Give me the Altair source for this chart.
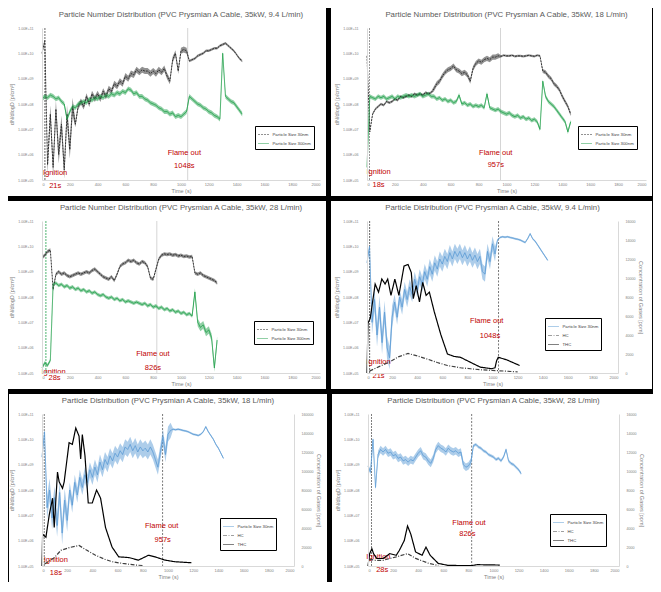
import altair as alt
import pandas as pd

STEP = 20  # seconds between readings of the particle series
X_TICKS = [0, 200, 400, 600, 800, 1000, 1200, 1400, 1600, 1800, 2000]
Y_TICKS = [1e5, 1e6, 1e7, 1e8, 1e9, 1e10, 1e11]

TITLES = [
    "Particle Number Distribution (PVC Prysmian A Cable, 35kW, 9.4 L/min)",
    "Particle Number Distribution (PVC Prysmian A Cable, 35kW, 18 L/min)",
    "Particle Number Distribution (PVC Prysmian A Cable, 35kW, 28 L/min)",
    "Particle Distribution (PVC Prysmian A Cable, 35kW, 9.4 L/min)",
    "Particle Distribution (PVC Prysmian A Cable, 35kW, 18 L/min)",
    "Particle Distribution (PVC Prysmian A Cable, 35kW, 28 L/min)",
]
IGNITION = [21, 18, 28, 21, 18, 28]
FLAME_OUT = [1048, 957, 826, 1048, 957, 826]
IGN_LABEL = ["21s", "18s", "28s", "21s", "18s", "28s"]
FO_LABEL = ["1048s", "957s", "826s", "1048s", "957s", "826s"]
# annotation positions (time s, log10 value)
IGN_T = [95, 83, 83, 92, 110, 83]
IGN_V = [5.29, 5.32, 5.05, 5.45, 5.24, 5.34]
IGNS_T = [95, 83, 90, 92, 110, 113]
IGNS_V = [4.76, 4.8, 4.8, 4.87, 4.73, 4.85]
FO_T = [1024, 923, 798, 954, 950, 805]
FO_V = [6.05, 6.07, 5.75, 7.06, 6.57, 6.71]
FOS_T = [1024, 923, 798, 980, 958, 792]
FOS_V = [5.55, 5.58, 5.2, 6.46, 6.04, 6.26]
LEG_X = [213, 211, 212, 178, 178, 182]
LEG_Y = [98, 98, 100, 97, 104, 100]
GAS_MAX = [16000, 160000, 16000]
GAS_TICKS = [
    [0, 2000, 4000, 6000, 8000, 10000, 12000, 14000, 16000],
    [0, 20000, 40000, 60000, 80000, 100000, 120000, 140000, 160000],
    [0, 2000, 4000, 6000, 8000, 10000, 12000, 14000, 16000],
]

# log10(dN/dlogD) readings, every 20 s from t = 0
P1_30NM = [10.0, 10.5, 5.6, 7.6, 5.5, 7.8, 6.0, 7.2, 5.4, 7.6, 6.2, 7.9, 7.2, 7.9, 8.1, 7.9, 8.3, 8.0, 8.4, 8.2,
           8.4, 8.2, 8.5, 8.3, 8.6, 8.5, 8.8, 8.7, 8.9, 8.8, 9.1, 9.0, 9.2, 9.15, 9.35, 9.25, 9.35, 9.3, 9.3, 9.2,
           9.3, 9.2, 9.35, 9.25, 9.4, 9.1, 8.9, 9.75, 10.0, 9.3, 10.1, 10.15, 10.1, 9.7, 9.75, 9.8, 9.9, 9.95, 10.0,
           10.1, 10.1, 10.15, 10.2, 10.2, 10.3, 10.35, 10.4, 10.3, 10.2, 10.1, 9.95, 9.8, 9.7]
P1_300NM = [8.2, 8.3, 8.25, 8.35, 8.3, 8.2, 8.25, 8.1, 8.0, 7.4, 7.7, 7.9, 7.85, 8.0, 8.05, 8.1, 8.05, 8.2, 8.15,
            8.25, 8.2, 8.3, 8.25, 8.35, 8.3, 8.4, 8.35, 8.45, 8.4, 8.5, 8.45, 8.6, 8.55, 8.4, 8.45, 8.3, 8.3, 8.2,
            8.15, 8.05, 8.0, 7.95, 7.85, 7.8, 7.7, 7.7, 7.6, 7.65, 7.5, 7.55, 7.5, 7.6, 7.7, 8.3, 8.2, 8.1, 8.0,
            7.95, 7.85, 7.8, 7.7, 7.65, 7.55, 7.5, 7.4, 10.0, 8.3, 8.2, 8.1, 8.05, 7.9, 7.75, 7.6]
P2_30NM = [9.9, 6.9, 7.6, 7.8, 7.9, 8.0, 7.95, 8.1, 8.05, 8.1, 8.2, 8.15, 8.3, 8.25, 8.3, 8.35, 8.3, 8.4, 8.35,
           8.4, 8.35, 8.45, 8.4, 8.45, 8.6, 8.8, 8.9, 9.1, 9.25, 9.35, 9.4, 9.5, 9.35, 9.3, 9.2, 9.25, 9.15, 8.9,
           9.4, 9.6, 9.7, 9.65, 9.75, 9.8, 9.75, 9.85, 9.85, 9.9, 9.88, 9.92, 9.9, 9.9, 9.92, 9.88, 9.9, 9.9, 9.88,
           9.9, 9.92, 9.9, 9.88, 9.92, 9.9, 9.3, 9.25, 9.1, 9.0, 8.8, 8.7, 8.55, 8.3, 8.1, 7.9, 7.6]
P2_300NM = [5.5, 8.3, 8.25, 8.2, 8.3, 8.25, 8.3, 8.2, 8.25, 8.3, 8.2, 8.3, 8.25, 8.3, 8.35, 8.3, 8.35, 8.3, 8.35,
            8.4, 8.3, 8.35, 8.4, 8.3, 8.3, 8.2, 8.25, 8.15, 8.2, 8.1, 8.15, 8.05, 8.1, 8.35, 8.0, 8.05, 7.95, 8.0,
            7.9, 7.95, 7.9, 7.95, 7.85, 8.4, 7.85, 7.8, 7.75, 7.8, 7.7, 7.65, 7.6, 7.65, 7.55, 7.5, 7.55, 7.45,
            7.5, 7.4, 7.45, 7.35, 7.4, 7.3, 7.0, 8.9, 8.3, 8.1, 8.0, 7.9, 7.75, 7.6, 7.45, 7.3, 6.9, 7.3]
P3_30NM = [9.55, 9.65, 9.8, 9.85, 8.3, 8.9, 9.0, 8.9, 8.95, 8.85, 8.8, 8.85, 8.9, 8.95, 8.9, 8.95, 9.0, 8.95, 9.05,
           9.1, 9.0, 8.9, 8.8, 8.75, 8.7, 8.8, 8.65, 8.9, 9.2, 9.3, 9.35, 9.45, 9.4, 9.45, 9.35, 9.3, 9.4, 9.35,
           9.2, 8.75, 8.7, 9.1, 9.5, 9.65, 9.7, 9.68, 9.7, 9.65, 9.68, 9.62, 9.65, 9.6, 9.62, 9.58, 9.6, 8.95, 8.9,
           8.95, 8.85, 8.8, 8.75, 8.7, 8.65, 8.55]
P3_300NM = [5.2, 5.4, 5.3, 5.5, 8.5, 8.55, 8.45, 8.5, 8.4, 8.45, 8.35, 8.4, 8.3, 8.35, 8.25, 8.3, 8.2, 8.25, 8.15,
            8.2, 8.1, 8.05, 8.1, 8.0, 7.95, 8.0, 7.9, 7.95, 7.85, 7.9, 7.8, 7.85, 7.8, 7.75, 7.8, 7.75, 7.7, 7.75,
            7.65, 7.7, 7.6, 7.65, 7.55, 7.6, 7.5, 7.55, 7.45, 7.5, 7.4, 7.45, 7.35, 7.4, 7.3, 7.35, 7.25, 8.2, 7.0,
            6.8, 6.9, 6.6, 6.7, 6.4, 5.2, 6.3]
P4_30NM = [9.35, 10.0, 7.0, 7.9, 6.5, 7.6, 6.2, 7.4, 6.0, 5.6, 7.2, 7.8, 7.2, 8.0, 7.6, 8.3, 7.9, 8.4, 8.1, 8.7,
           8.3, 8.8, 8.5, 9.0, 8.7, 9.2, 8.9, 9.35, 9.1, 9.5, 9.3, 9.6, 9.4, 9.75, 9.5, 9.8, 9.6, 9.8, 9.55, 9.75,
           9.5, 9.7, 9.45, 9.65, 9.4, 9.6, 9.0, 8.9, 9.8, 9.4, 10.1, 9.7, 10.25, 10.35, 10.38, 10.36, 10.38, 10.35,
           10.33, 10.3, 10.28, 10.25, 10.2, 10.15, 10.3, 10.5, 10.3, 10.2, 10.05, 9.9, 9.75, 9.6, 9.45]
P5_30NM = [9.3, 10.3, 7.3, 8.0, 6.9, 7.7, 6.6, 7.9, 6.3, 7.6, 6.8, 8.0, 7.4, 8.3, 7.8, 8.5, 8.1, 8.6, 8.3, 8.8,
           8.5, 8.9, 8.6, 9.1, 8.8, 9.2, 9.0, 9.35, 9.15, 9.45, 9.3, 9.55, 9.4, 9.7, 9.6, 9.8, 9.55, 9.75, 9.5, 9.7,
           9.55, 9.65, 9.5, 9.7, 9.5, 9.2, 8.9, 9.5, 10.1, 9.4, 10.2, 10.35, 10.4, 10.38, 10.4, 10.38, 10.35, 10.33,
           10.3, 10.25, 10.2, 10.18, 10.15, 10.2, 10.3, 10.5, 10.3, 10.15, 10.0, 9.8, 9.65, 9.45, 9.25]
P6_30NM = [8.95, 8.7, 10.0, 8.1, 9.4, 9.6, 9.5, 9.6, 9.45, 9.5, 9.35, 9.4, 9.25, 9.3, 9.15, 9.2, 9.1, 9.2, 9.15,
           9.3, 9.45, 9.55, 9.35, 9.3, 9.15, 9.05, 9.25, 9.6, 9.75, 9.65, 9.6, 9.5, 9.65, 9.55, 9.5, 9.55, 9.45,
           9.5, 9.0, 8.9, 8.95, 9.1, 9.75, 9.8, 9.7, 9.65, 9.55, 9.5, 9.4, 9.35, 9.3, 9.2, 9.25, 9.15, 9.3, 9.6,
           9.15, 9.05, 9.0, 8.9, 8.8, 8.65]

# half-width (decades) of the noise band seen around each reading
P1_30NM_SPREAD = [0.05] * 2 + [0.35] * 10 + [0.12] * 41 + [0.05] * 20
P1_300NM_SPREAD = [0.09] * 73
P2_30NM_SPREAD = [0.05] * 24 + [0.1] * 24 + [0.04] * 15 + [0.08] * 11
P2_300NM_SPREAD = [0.08] * 74
P3_30NM_SPREAD = [0.07] * 64
P3_300NM_SPREAD = [0.07] * 55 + [0.15] * 9
P4_30NM_SPREAD = [0.05] * 2 + [0.45] * 9 + [0.3] * 41 + [0.04] * 21
P5_30NM_SPREAD = [0.05] * 2 + [0.45] * 9 + [0.3] * 41 + [0.04] * 21
P6_30NM_SPREAD = [0.1] * 4 + [0.15] * 38 + [0.06] * 20

# gas concentrations [ppm]
THC4_T = [0, 8, 26, 65, 92, 118, 144, 165, 191, 222, 254, 295, 327, 353, 369, 392, 418, 444, 471, 497, 536, 588,
          641, 693, 745, 824, 902, 993, 1020, 1033, 1046, 1111, 1216]
THC4 = [0, 5250, 5770, 9370, 8510, 9890, 9370, 9890, 8170, 9890, 8170, 11260, 11430, 10570, 7830, 9200, 7490,
        9540, 8170, 8510, 6450, 4050, 2000, 1750, 1650, 1130, 620, 450, 550, 1300, 1650, 1400, 790]
HC4_T = [20, 100, 170, 250, 327, 400, 484, 560, 641, 745, 824, 900, 1000, 1100, 1200]
HC4 = [200, 700, 1100, 1700, 2060, 1800, 1450, 1100, 790, 550, 450, 350, 270, 200, 120]
THC5_T = [0, 5, 31, 58, 84, 97, 123, 136, 163, 176, 215, 241, 268, 294, 307, 320, 341, 367, 399, 433, 465, 504,
          556, 609, 688, 766, 845, 898, 976, 1055, 1186]
THC5 = [0, 33600, 30200, 54200, 71400, 40500, 98900, 88600, 81700, 88600, 129800, 128100, 145200, 136700, 112600,
        138400, 116100, 66300, 66300, 80000, 71400, 40500, 19900, 9600, 8900, 6200, 11300, 9600, 6200, 4500, 3400]
HC5_T = [20, 100, 150, 220, 294, 350, 425, 500, 556, 640, 740, 800]
HC5 = [2000, 9000, 16500, 19500, 21600, 17000, 11300, 7000, 4500, 2700, 1000, 500]
THC6_T = [0, 13, 31, 44, 70, 121, 173, 225, 250, 289, 315, 341, 379, 431, 462, 495, 560, 637, 818, 870, 1050]
THC6 = [0, 1300, 1820, 1300, 790, 790, 1300, 1130, 1650, 2680, 4220, 3360, 1480, 1130, 1990, 1130, 270, 70, 30,
        140, 100]
HC6_T = [10, 60, 121, 225, 315, 380, 480, 560]
HC6 = [700, 600, 600, 960, 1300, 800, 300, 50]

S30 = "Particle Size 30nm"
S300 = "Particle Size 300nm"
FONT = "Liberation Sans"
GREY = "#808080"
AXC = "#d9d9d9"
RED = "#c00000"
T_PAD, H_PLOT, B_PAD = 20, 152, 16
GEOM = [(34, 278, 6), (36, 279, 6), (34, 278, 6), (36, 251, 34), (33, 252, 33), (36, 251, 34)]
IGN_COL = ["#404040", "#808080", "#21a04b", "#404040", "#606060", "#606060"]


def particle_df(triples):
    rows = []
    for name, vals, spread in triples:
        for k, (v, s) in enumerate(zip(vals, spread)):
            rows.append({"t": k * STEP, "val": 10 ** v, "lo": 10 ** (v - s), "hi": 10 ** (v + s),
                         "series": name})
    return pd.DataFrame(rows)


def gas_df(pairs):
    rows = []
    for name, ts, vals in pairs:
        for t, v in zip(ts, vals):
            rows.append({"t": t, "ppm": v, "series": name})
    return pd.DataFrame(rows)


def x_enc():
    return alt.X("t:Q", scale=alt.Scale(domain=[0, 2000], nice=False, zero=False),
                 axis=alt.Axis(values=X_TICKS, format="d", title="Time (s)", labelFontSize=4,
                               titleFontSize=5.5, labelColor=GREY, titleColor=GREY, domainColor=AXC,
                               ticks=False, grid=False, labelPadding=2, titlePadding=2, zindex=1,
                               labelFont=FONT, titleFont=FONT, titleFontWeight="normal"))


def y_axis():
    return alt.Axis(values=Y_TICKS, orient="left",
                    labelExpr="'1.00E+' + format(round(log(datum.value)/LN10), '02d')",
                    title="dN/dlogD [p/cm³]", labelFontSize=3.6, titleFontSize=5.5,
                    labelColor=GREY, titleColor=GREY, domainColor=AXC, ticks=False,
                    grid=False, labelPadding=9, titlePadding=3, zindex=1, labelFont=FONT,
                    titleFont=FONT, titleFontWeight="normal")


def y_scale():
    return alt.Scale(type="log", domain=[1e5, 1e11], nice=False)


def y_part(field="val"):
    return alt.Y(field + ":Q", scale=y_scale(), axis=y_axis())


def legend(i):
    return alt.Legend(orient="none", legendX=LEG_X[i], legendY=LEG_Y[i], title=None, labelFontSize=4.3,
                      labelColor="#404040", labelFont=FONT, symbolType="stroke", symbolSize=120,
                      symbolStrokeWidth=1, strokeColor="#000000", fillColor="white", padding=2.5,
                      rowPadding=0, labelOffset=3, zindex=1)


def particle_layers(df, i, cscale, dscale, width):
    band = alt.Chart(df).mark_area(opacity=0.5, strokeWidth=0).encode(
        x=x_enc(), y=y_part("lo"), y2="hi:Q",
        color=alt.Color("series:N", scale=cscale, legend=legend(i)),
        detail="series:N")
    line = alt.Chart(df).mark_line(strokeWidth=width).encode(
        x=x_enc(), y=y_part(),
        color=alt.Color("series:N", scale=cscale, legend=legend(i)),
        strokeDash=alt.StrokeDash("series:N", scale=dscale, legend=legend(i)),
        detail="series:N")
    return band, line


def make_panel(i):
    L, W, R = GEOM[i]
    bg = alt.Chart(pd.DataFrame({"k": [0]})).mark_rect(color="white").encode(
        x=alt.value(-L), x2=alt.value(W + R), y=alt.value(-T_PAD), y2=alt.value(H_PLOT + B_PAD))
    ann = pd.DataFrame({
        "t": [IGN_T[i], IGNS_T[i], FO_T[i], FOS_T[i]],
        "val": [10 ** IGN_V[i], 10 ** IGNS_V[i], 10 ** FO_V[i], 10 ** FOS_V[i]],
        "label": ["Ignition", IGN_LABEL[i], "Flame out", FO_LABEL[i]],
    })
    texts = alt.Chart(ann).mark_text(color=RED, fontSize=7.5, font=FONT).encode(
        x=x_enc(), y=y_part(), text="label:N")
    ign = alt.Chart(pd.DataFrame({"t": [IGNITION[i]]})).mark_rule(
        color=IGN_COL[i], strokeWidth=0.8, strokeDash=[2, 1]).encode(x=x_enc())
    fo_dash = [1, 0] if i < 3 else [2, 1.5]
    fo_col = "#d0d0d0" if i < 3 else "#6a6a6a"
    fo = alt.Chart(pd.DataFrame({"t": [FLAME_OUT[i]]})).mark_rule(
        color=fo_col, strokeWidth=0.9, strokeDash=fo_dash).encode(x=x_enc())
    title = alt.TitleParams(TITLES[i], fontSize=7.8, color="#595959", font=FONT, fontWeight="normal",
                            offset=-11, frame="group", anchor="middle", zindex=1)
    if i < 3:
        data = [(P1_30NM, P1_30NM_SPREAD, P1_300NM, P1_300NM_SPREAD),
                (P2_30NM, P2_30NM_SPREAD, P2_300NM, P2_300NM_SPREAD),
                (P3_30NM, P3_30NM_SPREAD, P3_300NM, P3_300NM_SPREAD)][i]
        df = particle_df([(S30, data[0], data[1]), (S300, data[2], data[3])])
        dom = [S30, S300]
        cscale = alt.Scale(domain=dom, range=["#262626", "#21a04b"])
        dscale = alt.Scale(domain=dom, range=[[2, 1], [1, 0]])
        band, line = particle_layers(df, i, cscale, dscale, 0.9)
        return alt.layer(bg, fo, ign, band, line, texts).properties(width=W, height=H_PLOT, title=title)
    j = i - 3
    blue, spread = [(P4_30NM, P4_30NM_SPREAD), (P5_30NM, P5_30NM_SPREAD), (P6_30NM, P6_30NM_SPREAD)][j]
    thc_t, thc, hc_t, hc = [(THC4_T, THC4, HC4_T, HC4), (THC5_T, THC5, HC5_T, HC5),
                            (THC6_T, THC6, HC6_T, HC6)][j]
    dom = [S30, "HC", "THC"]
    cscale = alt.Scale(domain=dom, range=["#5b9bd5", "#404040", "#000000"])
    dscale = alt.Scale(domain=dom, range=[[1, 0], [4, 1.5, 1, 1.5], [1, 0]])
    pdf = particle_df([(S30, blue, spread)])
    gdf = gas_df([("HC", hc_t, hc), ("THC", thc_t, thc)])
    band, bl = particle_layers(pdf, i, cscale, dscale, 0.9)
    y_gas = alt.Y("ppm:Q", scale=alt.Scale(domain=[0, GAS_MAX[j]], nice=False),
                  axis=alt.Axis(values=GAS_TICKS[j], orient="right", format="d",
                                title="Concentration of Gases [ppm]", labelFontSize=3.6, titleFontSize=5.5,
                                labelColor=GREY, titleColor=GREY, domainColor=AXC, ticks=False, grid=False,
                                labelPadding=7, titlePadding=3, zindex=1, labelFont=FONT, titleFont=FONT,
                                titleFontWeight="normal"))
    gl = alt.Chart(gdf).mark_line(strokeWidth=1.2).encode(
        x=x_enc(), y=y_gas,
        color=alt.Color("series:N", scale=cscale, legend=legend(i)),
        strokeDash=alt.StrokeDash("series:N", scale=dscale, legend=legend(i)),
        detail="series:N")
    part_group = alt.layer(fo, ign, band, bl, texts)
    return alt.layer(bg, part_group, gl).resolve_scale(y="independent").properties(
        width=W, height=H_PLOT, title=title)


panels = [make_panel(i) for i in range(6)]
rows = [alt.hconcat(panels[0], panels[1], spacing=5),
        alt.hconcat(panels[2], panels[3], spacing=5),
        alt.hconcat(panels[4], panels[5], spacing=5)]
rows = [r.resolve_scale(color="independent", strokeDash="independent") for r in rows]
chart = alt.vconcat(*rows, spacing=5).resolve_scale(
    color="independent", strokeDash="independent").configure(
    background="black", padding=0, font=FONT).configure_view(stroke=None)

chart.save("out.html", embed_options={"renderer": "svg", "actions": False})
